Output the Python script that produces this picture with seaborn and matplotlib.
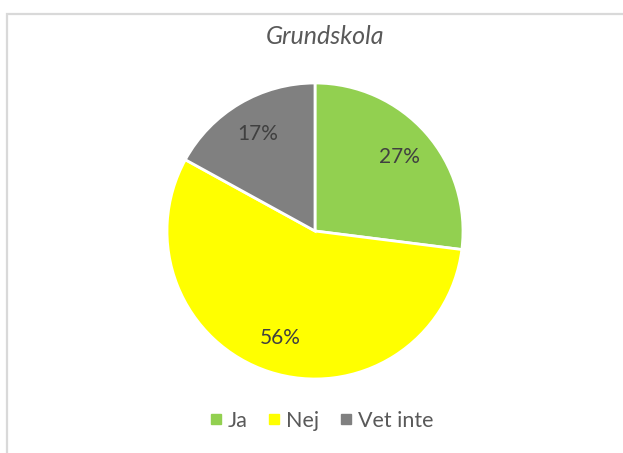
import matplotlib
matplotlib.use('Agg')
import matplotlib.pyplot as plt
import matplotlib.patches as mpatches
from matplotlib.lines import Line2D
import seaborn as sns

# Data
categories = ['Ja', 'Nej', 'Vet inte']
shares = [27, 56, 17]
colors = ['#92D050', '#FFFF00', '#808080']
title = 'Grundskola'


def main():
    sns.set_theme(style='white')
    plt.rcParams['font.family'] = ['Lato', 'DejaVu Sans']

    W, H = 623, 453
    fig = plt.figure(figsize=(W / 100, H / 100), dpi=100)
    fig.patch.set_facecolor('white')

    # light grey chart border (only left/top visible in the crop)
    border = mpatches.Rectangle((6.5 / W, -0.1), 1.2, 1.1 - 13.5 / H,
                                transform=fig.transFigure, fill=False,
                                edgecolor='#d9d9d9', linewidth=1.6)
    fig.patches.append(border)

    # pie axes, centre ~ (315, 231) px, radius ~ 148 px
    cx, cy, r = 315, 231, 148
    ax = fig.add_axes([(cx - r) / W, (H - cy - r) / H, 2 * r / W, 2 * r / H])
    wedges, texts, autotexts = ax.pie(
        shares, colors=colors, startangle=90, counterclock=False,
        autopct='%1.0f%%', pctdistance=0.76,
        wedgeprops=dict(edgecolor='white', linewidth=2),
        textprops=dict(color='#404040', fontsize=15))
    ax.set_xlim(-1, 1)
    ax.set_ylim(-1, 1)
    ax.set_aspect('equal')
    ax.axis('off')

    fig.text(325 / W, 1 - 36 / H, title, ha='center', va='center',
             fontsize=18, style='italic', color='#595959')

    handles = [Line2D([0], [0], marker='s', linestyle='none', markersize=7,
                      markerfacecolor=c, markeredgecolor=c) for c in colors]
    fig.legend(handles, categories, loc='center', ncol=3,
               bbox_to_anchor=(321 / W, 1 - 421 / H), frameon=False,
               fontsize=15.5, labelcolor='#595959', handletextpad=0.2,
               columnspacing=0.9, handlelength=0.7)

    fig.savefig('out.png', dpi=100)


if __name__ == '__main__':
    main()
